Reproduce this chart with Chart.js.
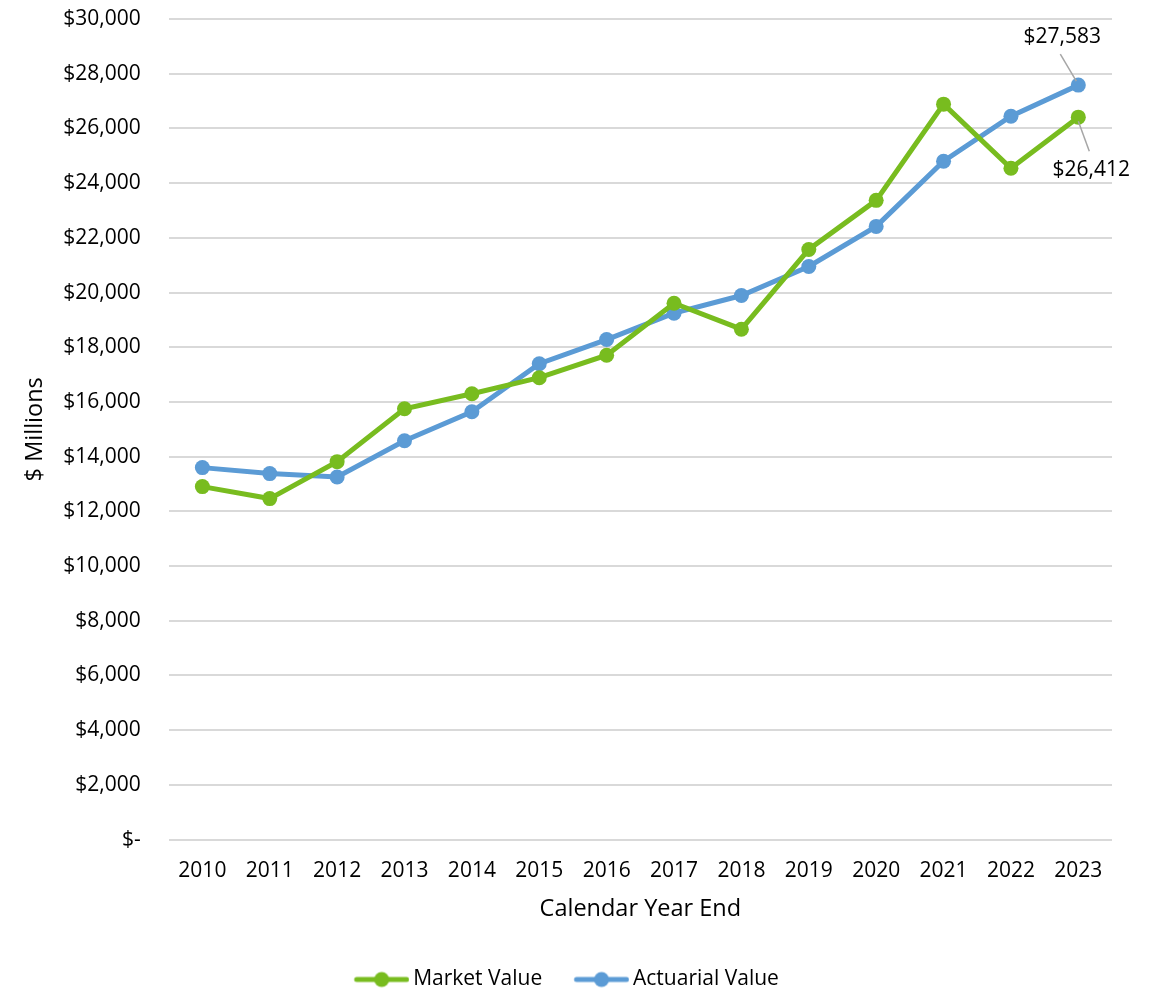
<!DOCTYPE html>
<html>
<head>
<meta charset="utf-8">
<script src="https://cdn.jsdelivr.net/npm/chart.js@4"></script>
<style>
  html, body { margin: 0; padding: 0; background: #fff; }
  #wrap { width: 1153px; height: 989px; }
</style>
</head>
<body>
<div id="wrap"><canvas id="chart" width="1153" height="989"></canvas></div>
<script>
const years = ["2010", "2011", "2012", "2013", "2014", "2015", "2016", "2017", "2018", "2019", "2020", "2021", "2022", "2023"];
const marketValue = [12905, 12467, 13818, 15751, 16300, 16886, 17708, 19609, 18660, 21575, 23370, 26886, 24542, 26412];
const actuarialValue = [13599, 13380, 13255, 14579, 15641, 17399, 18281, 19245, 19890, 20952, 22418, 24799, 26447, 27583];
const yTicks = [0, 2000, 4000, 6000, 8000, 10000, 12000, 14000, 16000, 18000, 20000, 22000, 24000, 26000, 28000, 30000];

const green = "#78bc1f";
const blue = "#5b9bd5";
const fontFamily = "'Open Sans', 'Noto Sans', sans-serif";
const textColor = "#000000";

const money = (v) => v === 0 ? "$-" : "$" + v.toLocaleString("en-US");

// legend marker: short line with a dot in the middle
// (image is a bit wider than the legend box so the text sits close to it)
function legendMarker(color) {
  const c = document.createElement("canvas");
  c.width = 62;
  c.height = 18;
  const g = c.getContext("2d");
  const x0 = 9.25;
  g.strokeStyle = color;
  g.lineWidth = 5;
  g.lineCap = "round";
  g.beginPath();
  g.moveTo(x0, 9);
  g.lineTo(x0 + 50, 9);
  g.stroke();
  g.fillStyle = color;
  g.beginPath();
  g.arc(x0 + 25, 9, 7.5, 0, Math.PI * 2);
  g.fill();
  return c;
}

// labels for the last point of each series, with a thin leader line
const lastLabels = {
  id: "lastLabels",
  afterDatasetsDraw(chart) {
    const ctx = chart.ctx;
    const spots = [
      { ds: 1, dx: -16, dy: -48, lx1: -2, ly1: -4, lx2: -18, ly2: -31 },
      { ds: 0, dx: 13, dy: 53, lx1: 0, ly1: 4, lx2: 11, ly2: 34 },
    ];
    ctx.save();
    spots.forEach((s) => {
      const meta = chart.getDatasetMeta(s.ds);
      const last = meta.data[meta.data.length - 1];
      const value = chart.data.datasets[s.ds].data[meta.data.length - 1];
      ctx.strokeStyle = "#a6a6a6";
      ctx.lineWidth = 1.5;
      ctx.beginPath();
      ctx.moveTo(last.x + s.lx1, last.y + s.ly1);
      ctx.lineTo(last.x + s.lx2, last.y + s.ly2);
      ctx.stroke();
      ctx.fillStyle = textColor;
      ctx.font = "21px " + fontFamily;
      ctx.textAlign = "center";
      ctx.textBaseline = "middle";
      ctx.fillText(money(value), last.x + s.dx, last.y + s.dy);
    });
    ctx.restore();
  },
};

new Chart(document.getElementById("chart"), {
  type: "line",
  data: {
    labels: years,
    datasets: [
      {
        label: "Market Value",
        data: marketValue,
        borderColor: green,
        backgroundColor: green,
        borderWidth: 5,
        pointRadius: 7.5,
        pointHoverRadius: 7.5,
        pointBorderWidth: 0,
        tension: 0,
      },
      {
        label: "Actuarial Value",
        data: actuarialValue,
        borderColor: blue,
        backgroundColor: blue,
        borderWidth: 5,
        pointRadius: 7.5,
        pointHoverRadius: 7.5,
        pointBorderWidth: 0,
        tension: 0,
      },
    ],
  },
  options: {
    responsive: false,
    animation: false,
    layout: { padding: { left: 21, right: 41, top: 19, bottom: -11 } },
    scales: {
      x: {
        offset: true,
        grid: { display: false },
        border: { display: false },
        ticks: { color: textColor, font: { family: fontFamily, size: 21 }, padding: 11, maxRotation: 0 },
        title: { display: true, text: "Calendar Year End", color: textColor, font: { family: fontFamily, size: 23.5 }, padding: { top: 0, bottom: 36 } },
      },
      y: {
        min: 0,
        max: 30000,
        afterBuildTicks: (axis) => { axis.ticks = yTicks.map((v) => ({ value: v })); },
        // invisible tick marks give the gap between labels and grid
        grid: { color: "#d9d9d9", lineWidth: 2, drawTicks: true, tickLength: 28, tickColor: "rgba(0,0,0,0)" },
        border: { display: false },
        ticks: { color: textColor, font: { family: fontFamily, size: 21 }, padding: 0, callback: (v) => money(v) },
        title: { display: true, text: "$ Millions", color: textColor, font: { family: fontFamily, size: 23.5 }, padding: { top: 0, bottom: 14 } },
      },
    },
    plugins: {
      legend: {
        position: "bottom",
        labels: {
          color: textColor,
          font: { family: fontFamily, size: 21 },
          usePointStyle: true,
          pointStyleWidth: 48.5,
          boxHeight: 18,
          padding: 10,
          generateLabels: (chart) => chart.data.datasets.map((d, i) => ({
            // trailing spaces on the first item widen the gap between the two entries
            text: i === 0 ? d.label + "    " : d.label,
            pointStyle: legendMarker(d.borderColor),
            fillStyle: d.borderColor,
            strokeStyle: d.borderColor,
            lineWidth: 0,
            datasetIndex: i,
            fontColor: textColor,
          })),
        },
      },
      tooltip: { enabled: false },
    },
  },
  plugins: [lastLabels],
});
</script>
</body>
</html>
